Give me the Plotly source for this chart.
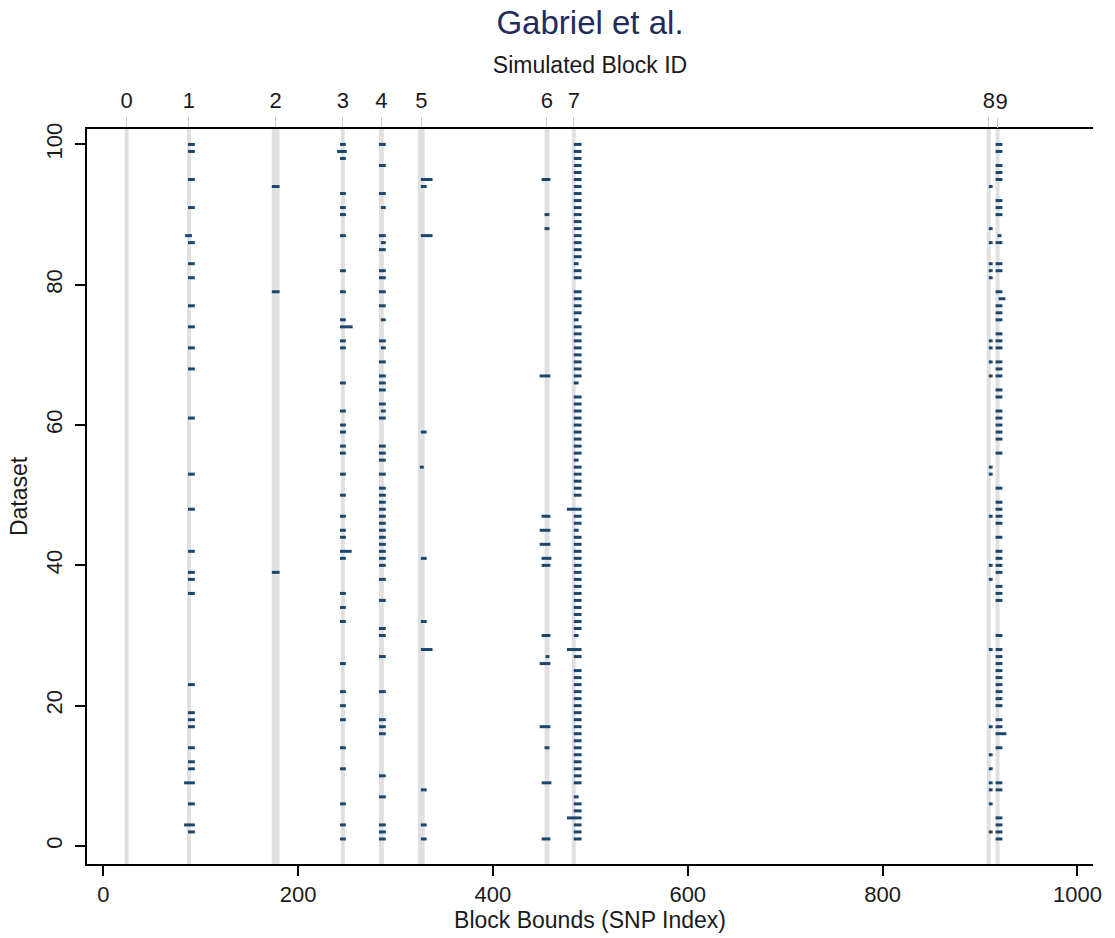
import plotly.graph_objects as go

# Simulated haplotype blocks: ID and true bounds (SNP index)
BLOCK_ID = [0, 1, 2, 3, 4, 5, 6, 7, 8, 9]
BLOCK_START = [22, 86, 173, 244, 283, 323, 453, 481, 907, 916]
BLOCK_END = [26, 90, 181, 248, 288, 330, 458, 485, 911, 920]

# Blocks called by Gabriel et al. per dataset, grouped by called bounds:
# (call start, call end, datasets)
CALLS_B1 = [
    (87, 94, [100, 99, 95, 91, 86, 83, 81, 77, 74, 71, 68, 61, 53, 48, 42, 39,
              38, 36, 23, 19, 18, 17, 14, 12, 11, 6, 2]),
    (84, 91, [87]),
    (83, 94, [9, 3]),
]
CALLS_B2 = [
    (173, 181, [94, 79, 39]),
]
CALLS_B3 = [
    (243, 249, [100, 98, 93, 91, 90, 87, 82, 79, 75, 72, 71, 66, 62, 60, 59, 57,
                56, 53, 50, 47, 45, 44, 41, 36, 34, 32, 26, 22, 20, 18, 14, 11,
                6, 3, 1]),
    (240, 250, [99]),
    (243, 256, [74]),
    (243, 255, [42]),
]
CALLS_B4 = [
    (283, 290, [100, 97, 93, 87, 85, 82, 81, 79, 77, 72, 69, 67, 66, 65, 63, 61,
                57, 56, 55, 53, 51, 50, 49, 48, 47, 46, 45, 44, 43, 42, 41, 40,
                38, 35, 31, 30, 27, 22, 18, 17, 16, 10, 7, 3, 2, 1]),
    (285, 290, [91, 86, 75, 71, 62]),
]
CALLS_B5 = [
    (326, 332, [94, 59, 41, 32, 8, 3, 1]),
    (326, 338, [95, 87, 28]),
    (325, 329, [54]),
]
CALLS_B6 = [
    (450, 459, [95, 47, 40, 30, 1]),
    (453, 458, [90, 88, 14]),
    (454, 458, [27]),
    (448, 459, [67, 45, 43, 26, 17]),
    (450, 460, [41, 9]),
]
CALLS_B7 = [
    (483, 491, [100, 99, 98, 97, 96, 95, 94, 93, 92, 91, 90, 89, 88, 87, 86, 85,
                84, 82, 81, 79, 78, 77, 76, 74, 73, 72, 71, 70, 69, 68, 67, 64,
                63, 62, 61, 60, 59, 58, 57, 56, 54, 53, 52, 51, 50, 47, 46, 44,
                43, 42, 41, 40, 39, 38, 37, 36, 35, 34, 33, 32, 31, 27, 25, 24,
                23, 22, 21, 20, 19, 18, 17, 16, 15, 14, 13, 12, 11, 10, 9, 6, 5,
                3, 2, 1]),
    (483, 488, [83, 75, 66, 55, 45, 30, 7]),
    (476, 491, [48, 28, 4]),
]
CALLS_B8 = [
    (909, 913, [94, 88, 86, 83, 82, 81, 72, 71, 69, 67, 54, 53, 47, 40, 38, 28,
                17, 13, 11, 9, 8, 6, 2]),
]
CALLS_B9 = [
    (916, 923, [100, 99, 97, 96, 95, 92, 91, 90, 86, 83, 82, 79, 77, 76, 75, 73,
                72, 71, 69, 68, 67, 65, 64, 62, 61, 60, 59, 58, 56, 51, 49, 48,
                47, 46, 44, 42, 41, 40, 39, 37, 36, 35, 30, 28, 27, 26, 25, 24,
                23, 22, 21, 20, 18, 17, 14, 9, 8, 4, 3, 2, 1]),
    (918, 922, [87]),
    (919, 926, [78]),
    (916, 927, [16]),
]

X_TICKS = [0, 200, 400, 600, 800, 1000]
Y_TICKS = [0, 20, 40, 60, 80, 100]

NAVY = "#1a476f"
BAND = "#e0e0e0"
FONT = "Liberation Sans, Arial, sans-serif"
TEXT = "#1a1a1a"

X_RANGE = [-16.7, 1016]
Y_RANGE = [-2.57, 102.2]

fig = go.Figure()

# grey bands marking the true block bounds
for s, e in zip(BLOCK_START, BLOCK_END):
    fig.add_shape(type="rect", xref="x", yref="paper", x0=s, x1=e, y0=0, y1=1,
                  fillcolor=BAND, line=dict(width=0), layer="below")

# called block bounds, one short horizontal segment per dataset
seg_x, seg_y = [], []
for calls in [CALLS_B1, CALLS_B2, CALLS_B3, CALLS_B4, CALLS_B5,
              CALLS_B6, CALLS_B7, CALLS_B8, CALLS_B9]:
    for start, end, datasets in calls:
        for d in datasets:
            seg_x += [start, end, None]
            seg_y += [d, d, None]

fig.add_trace(go.Scatter(x=seg_x, y=seg_y, mode="lines",
                         line=dict(color=NAVY, width=3),
                         hoverinfo="skip", showlegend=False))

# block ID axis along the top; the last block's label sits on its own
# overlay axis so it can be nudged clear of its close neighbour
centers = [(s + e) / 2 for s, e in zip(BLOCK_START, BLOCK_END)]
labels = [str(i) for i in BLOCK_ID]
fig.add_trace(go.Scatter(x=centers, y=[None] * len(centers), xaxis="x2",
                         mode="markers", hoverinfo="skip", showlegend=False))
fig.add_trace(go.Scatter(x=centers, y=[None] * len(centers), xaxis="x3",
                         mode="markers", hoverinfo="skip", showlegend=False))

top_common = dict(range=X_RANGE, overlaying="x", side="top", anchor="y",
                  ticks="outside", ticklen=10, tickwidth=1, tickcolor="#c8c8c8",
                  showgrid=False, zeroline=False, tickangle=0,
                  tickfont=dict(size=22), ticklabelstandoff=0)

fig.update_layout(
    width=1115, height=938,
    paper_bgcolor="white", plot_bgcolor="white",
    margin=dict(l=87, r=22, t=129, b=74),
    font=dict(family=FONT, color=TEXT, size=22),
    title=dict(text="Gabriel et al.", x=0.5, xref="paper", xanchor="center",
               y=1 - 22 / 938, yref="container", yanchor="middle",
               font=dict(size=33, color="#1f2c5c", family=FONT)),
    xaxis=dict(range=X_RANGE, tickvals=X_TICKS, ticks="outside", ticklen=10,
               tickwidth=1.5, tickcolor="black", showline=True, linecolor="black",
               linewidth=2, showgrid=False, zeroline=False, tickangle=0,
               tickfont=dict(size=22),
               title=dict(text="Block Bounds (SNP Index)", font=dict(size=23),
                          standoff=0)),
    xaxis2=dict(**top_common, tickvals=centers[:-1], ticktext=labels[:-1],
                showline=True, linecolor="black", linewidth=2,
                title=dict(text="Simulated Block ID", font=dict(size=23),
                           standoff=8)),
    xaxis3=dict(**top_common, tickvals=centers[-1:], ticktext=labels[-1:],
                ticklabelshift=4, showline=False),
    yaxis=dict(range=Y_RANGE, tickvals=Y_TICKS, ticks="outside", ticklen=10,
               tickwidth=1.5, tickcolor="black", showline=True, linecolor="black",
               linewidth=2, showgrid=False, zeroline=False, tickangle=-90,
               tickfont=dict(size=22), ticklabelstandoff=4,
               title=dict(text="Dataset", font=dict(size=23), standoff=8)),
)

fig.write_html("out.html")
